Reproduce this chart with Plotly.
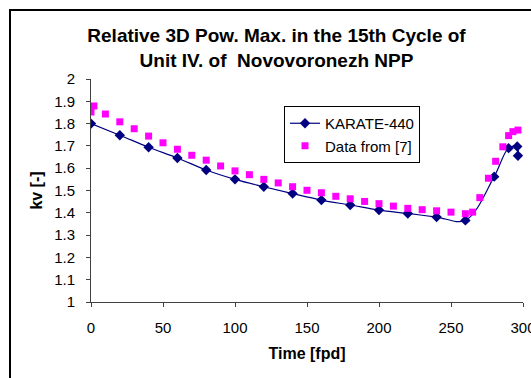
import plotly.graph_objects as go

# KARATE-440 calculation
karate_t = [0, 20, 40, 60, 80, 100, 120, 140, 160, 180, 200, 220, 240, 260, 280, 290, 296, 296.5]
karate_kv = [1.80, 1.748, 1.694, 1.646, 1.592, 1.550, 1.517, 1.486, 1.457, 1.435, 1.412, 1.397,
             1.381, 1.366, 1.562, 1.690, 1.697, 1.656]

# Data from [7]
ref_t = [0, 2, 10, 20, 30, 40, 50, 60, 70, 80, 90, 100, 110, 120, 130, 140, 150, 160, 170, 180,
         190, 200, 210, 220, 230, 240, 250, 260, 265, 270, 276, 281, 286, 290, 293, 296.5]
ref_kv = [1.852, 1.879, 1.843, 1.808, 1.777, 1.744, 1.714, 1.685, 1.658, 1.636, 1.610, 1.588,
          1.571, 1.550, 1.534, 1.517, 1.501, 1.490, 1.474, 1.463, 1.451, 1.441, 1.430, 1.420,
          1.414, 1.409, 1.403, 1.396, 1.403, 1.468, 1.555, 1.631, 1.696, 1.746, 1.764, 1.771]

x_ticks = [0, 50, 100, 150, 200, 250, 300]
y_ticks = [1, 1.1, 1.2, 1.3, 1.4, 1.5, 1.6, 1.7, 1.8, 1.9, 2]
y_tick_text = ["1", "1.1", "1.2", "1.3", "1.4", "1.5", "1.6", "1.7", "1.8", "1.9", "2"]

FONT = "Liberation Sans, Arial, sans-serif"
W, H = 531, 378
L, T = 91, 79
PR, PB = 523, 302  # plot right / bottom in px
R, B = W - PR, H - PB
PW, PH = PR - L, PB - T

fig = go.Figure()
fig.add_trace(go.Scatter(
    x=karate_t, y=karate_kv, name="KARATE-440", mode="lines+markers",
    line=dict(color="#000080", width=1.2, shape="spline", smoothing=1.0),
    marker=dict(symbol="diamond", size=8, color="#000080"),
    legendgroup="a",
))
fig.add_trace(go.Scatter(
    x=ref_t, y=ref_kv, name="Data from [7]", mode="markers",
    marker=dict(symbol="square", size=7, color="#FF00FF"),
    legendgroup="b",
))

def px_x(p):
    return (p - L) / PW

def px_y(p):
    return (PB - p) / PH

# outer chart-area border (left and top edges visible)
fig.add_shape(type="line", xref="paper", yref="paper",
              x0=px_x(10), x1=px_x(10), y0=px_y(378), y1=px_y(9),
              line=dict(color="black", width=2), layer="above")
fig.add_shape(type="line", xref="paper", yref="paper",
              x0=px_x(9), x1=px_x(531), y0=px_y(10), y1=px_y(10),
              line=dict(color="black", width=2), layer="above")

fig.update_layout(
    width=W, height=H, autosize=False,
    margin=dict(l=L, r=R, t=T, b=B, autoexpand=False),
    paper_bgcolor="white", plot_bgcolor="white",
    font=dict(family=FONT, size=15, color="black"),
    title=dict(
        text="<b>Relative 3D Pow. Max. in the 15th Cycle of<br>Unit IV. of  Novovoronezh NPP</b>",
        x=276.5 / W, xanchor="center", xref="container",
        y=1 - 42 / H, yanchor="top", yref="container",
        font=dict(family=FONT, size=19, color="black"),
    ),
    xaxis=dict(
        range=[0, 300], tickvals=x_ticks, ticktext=[str(v) for v in x_ticks],
        showgrid=False, zeroline=False, showline=True, linecolor="#404040", linewidth=1,
        ticks="outside", ticklen=4, tickcolor="#404040", ticklabelstandoff=8,
        ticklabeloverflow="allow", automargin=False,
        title=dict(text="<b>Time [fpd]</b>", font=dict(family=FONT, size=16), standoff=12),
        tickfont=dict(size=15),
    ),
    yaxis=dict(
        range=[1, 2], tickvals=y_ticks, ticktext=y_tick_text,
        showgrid=False, zeroline=False, showline=True, linecolor="#404040", linewidth=1,
        ticks="outside", ticklen=4, tickcolor="#404040", ticklabelstandoff=8,
        automargin=False,
        title=dict(text="<b>kv [-]</b>", font=dict(family=FONT, size=16), standoff=7),
        tickfont=dict(size=15),
    ),
    legend=dict(
        x=px_x(284), y=px_y(106), xanchor="left", yanchor="top",
        bordercolor="black", borderwidth=1, bgcolor="white",
        font=dict(family=FONT, size=15), tracegroupgap=0, itemwidth=30,
    ),
    showlegend=True,
)

fig.write_html(
    "out.html",
    config={"displayModeBar": False, "responsive": False},
    post_script=(
        "document.documentElement.style.margin='0';"
        "document.documentElement.style.overflow='hidden';"
        "document.body.style.margin='0';document.body.style.overflow='hidden';"
    ),
)
